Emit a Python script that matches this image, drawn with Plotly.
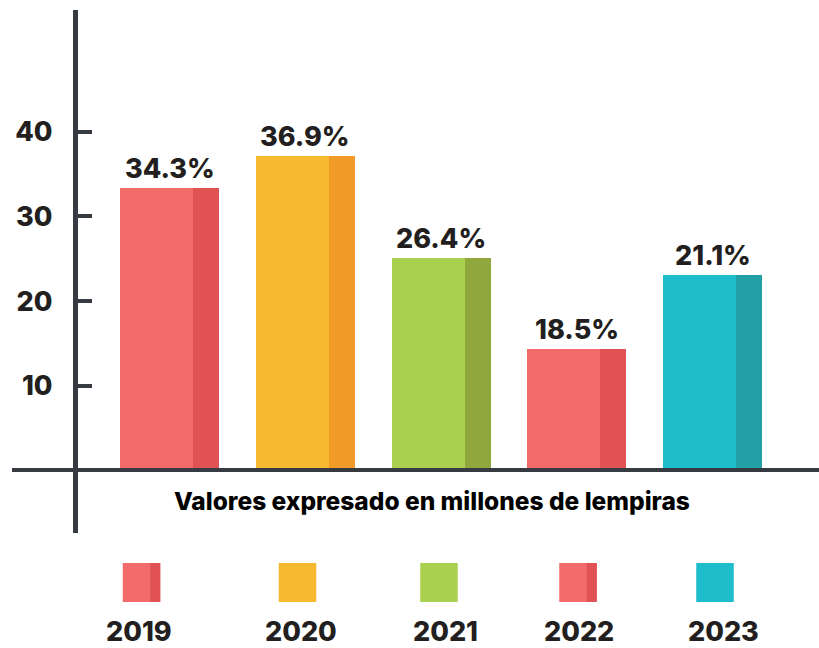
import plotly.graph_objects as go

# ---- data ----
years = ["2019", "2020", "2021", "2022", "2023"]
values = [33.4, 37.1, 25.1, 14.4, 23.1]
labels = ["34.3%", "36.9%", "26.4%", "18.5%", "21.1%"]
light_colors = ["#F26B6A", "#F6B92F", "#A9D04F", "#F26B6A", "#1DBDCB"]
dark_colors = ["#E05254", "#F09A28", "#8FA73C", "#E05254", "#23A0A5"]
two_tone_legend = [True, False, False, True, False]
y_ticks = [10, 20, 30, 40]
x_title = "Valores expresado en millones de lempiras"

W, H = 819, 648
AXIS = "#353B40"
TXT = "#231F20"
FONT = "Inter"

xs = list(range(len(years)))
light_w = 0.5378
dark_w = 0.1915

fig = go.Figure()
fig.add_trace(go.Bar(x=xs, y=values, offset=0, width=light_w,
                     marker=dict(color=light_colors, line=dict(width=0)),
                     hoverinfo="skip", showlegend=False))
fig.add_trace(go.Bar(x=xs, y=values, offset=light_w, width=dark_w,
                     marker=dict(color=dark_colors, line=dict(width=0)),
                     hoverinfo="skip", showlegend=False))

annotations = []
for i, (v, lab) in enumerate(zip(values, labels)):
    annotations.append(dict(x=i + (light_w + dark_w) / 2, y=v, xref="x", yref="y",
                            text=lab, showarrow=False, yanchor="bottom", yshift=1,
                            font=dict(family=FONT, size=27, color=TXT, weight=800)))

annotations.append(dict(x=432 / W, y=1 - 501 / H, xref="paper", yref="paper",
                        text=x_title, showarrow=False, xanchor="center", yanchor="middle",
                        font=dict(family=FONT, size=24.5, color="#000000", weight=800)))

shapes = []
# horizontal baseline
shapes.append(dict(type="line", xref="paper", yref="paper",
                   x0=12 / W, x1=1, y0=1 - 470 / H, y1=1 - 470 / H,
                   line=dict(color=AXIS, width=4)))
# vertical axis line
shapes.append(dict(type="line", xref="paper", yref="paper",
                   x0=75.5 / W, x1=75.5 / W, y0=1 - 10 / H, y1=1 - 533 / H,
                   line=dict(color=AXIS, width=5)))

# custom legend
leg_cx = [141.5, 297.5, 439, 578, 715]
lab_cx = [138.5, 301, 446, 579, 723]
sq = 37.5
for i, yr in enumerate(years):
    x0 = (leg_cx[i] - sq / 2) / W
    x1 = (leg_cx[i] + sq / 2) / W
    y0 = 1 - 602 / H
    y1 = 1 - 563 / H
    shapes.append(dict(type="rect", xref="paper", yref="paper", x0=x0, x1=x1, y0=y0, y1=y1,
                       fillcolor=light_colors[i], line=dict(width=0), layer="above"))
    if two_tone_legend[i]:
        shapes.append(dict(type="rect", xref="paper", yref="paper",
                           x0=(leg_cx[i] + sq / 2 - 10) / W, x1=x1, y0=y0, y1=y1,
                           fillcolor=dark_colors[i], line=dict(width=0), layer="above"))
    annotations.append(dict(x=lab_cx[i] / W, y=1 - 631 / H, xref="paper", yref="paper",
                            text=yr, showarrow=False, xanchor="center", yanchor="middle",
                            font=dict(family=FONT, size=27, color=TXT, weight=800)))

px_per_unit = 8.467
zero_px = 470.5
fig.update_layout(
    width=W, height=H,
    margin=dict(l=0, r=0, t=0, b=0),
    paper_bgcolor="white", plot_bgcolor="white",
    barmode="overlay", bargap=0,
    xaxis=dict(range=[-120 / 135.75, (W - 120) / 135.75], visible=False, fixedrange=True),
    yaxis=dict(range=[(zero_px - H) / px_per_unit, zero_px / px_per_unit],
               anchor="free", position=75.5 / W, side="left",
               showgrid=False, zeroline=False, showline=False,
               ticks="inside", ticklen=15, tickwidth=4, tickcolor=AXIS,
               tickvals=y_ticks, ticktext=[str(t) for t in y_ticks],
               ticklabelstandoff=23,
               tickfont=dict(family=FONT, size=27, color=TXT, weight=800)),
    shapes=shapes,
    annotations=annotations,
    showlegend=False,
)

fig.write_html("out.html", config={"displayModeBar": False},
               post_script="document.body.style.margin='0';document.body.style.overflow='hidden';")
